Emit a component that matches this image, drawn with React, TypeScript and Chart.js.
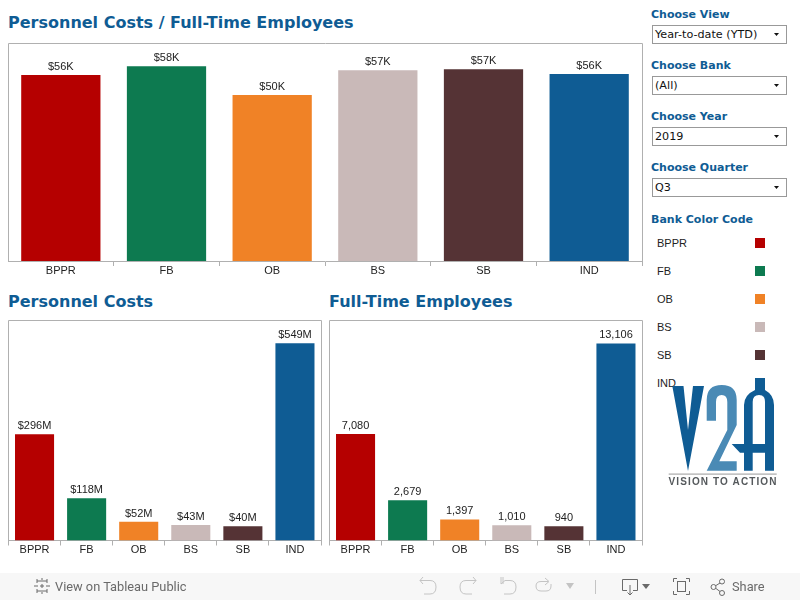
import React, { useEffect, useRef } from "react";
import { Chart, registerables } from "chart.js";

Chart.register(...registerables);

const banks = ["BPPR", "FB", "OB", "BS", "SB", "IND"];
const bankColors = ["#b50000", "#0d7a50", "#f08226", "#c9b9b8", "#553335", "#0f5c94"];
const costPerEmployee = [55.7, 58.3, 49.7, 57.1, 57.4, 56.0];
const costPerEmployeeLabels = ["$56K", "$58K", "$50K", "$57K", "$57K", "$56K"];
const personnelCosts = [296, 118, 52, 43, 40, 549];
const personnelCostLabels = ["$296M", "$118M", "$52M", "$43M", "$40M", "$549M"];
const employees = [7080, 2679, 1397, 1010, 940, 13106];
const employeeLabels = ["7,080", "2,679", "1,397", "1,010", "940", "13,106"];
const filters = [
  ["Choose View", "Year-to-date (YTD)"],
  ["Choose Bank", "(All)"],
  ["Choose Year", "2019"],
  ["Choose Quarter", "Q3"],
];

const BLUE = "#0f5c94";
const FRAME = "#b0b0b0";

function BarPanel(props: {
  values: number[];
  labels: string[];
  max: number;
  left: number;
  top: number;
  width: number;
  height: number;
  axisHeight: number;
  padLeft: number;
}) {
  const ref = useRef<HTMLCanvasElement | null>(null);
  const { values, labels, max, left, top, width, height, axisHeight, padLeft } = props;
  useEffect(() => {
    const chart = new Chart(ref.current as HTMLCanvasElement, {
      type: "bar",
      data: {
        labels: banks,
        datasets: [
          {
            data: values,
            backgroundColor: bankColors,
            categoryPercentage: 1,
            barPercentage: 0.75,
          },
        ],
      },
      options: {
        animation: false,
        responsive: false,
        events: [],
        layout: { padding: { left: padLeft, right: 1, top: 0.5, bottom: 0 } },
        plugins: { legend: { display: false }, tooltip: { enabled: false } },
        scales: {
          y: { display: false, min: 0, max },
          x: {
            afterFit: (s: any) => {
              s.height = axisHeight;
            },
            border: { color: FRAME },
            grid: { drawOnChartArea: false, tickLength: 5, color: FRAME },
            ticks: {
              color: "#222",
              padding: -2,
              maxRotation: 0,
              font: { family: "'Liberation Sans', Arial", size: 11 },
            },
          },
        },
      },
      plugins: [
        {
          id: "frameAndLabels",
          afterDatasetsDraw(c: any) {
            const { ctx, chartArea: a } = c;
            const l = Math.floor(a.left) + 0.5;
            const r = Math.floor(a.right) + 0.5;
            ctx.save();
            ctx.strokeStyle = FRAME;
            ctx.lineWidth = 1;
            ctx.beginPath();
            ctx.moveTo(l, a.bottom);
            ctx.lineTo(l, a.top);
            ctx.lineTo(r, a.top);
            ctx.lineTo(r, a.bottom);
            ctx.stroke();
            ctx.fillStyle = "#222";
            ctx.font = "11px 'Liberation Sans', Arial";
            ctx.textAlign = "center";
            ctx.textBaseline = "alphabetic";
            c.getDatasetMeta(0).data.forEach((el: any, i: number) => {
              ctx.fillText(labels[i], el.x, el.y - 5);
            });
            ctx.restore();
          },
        },
      ],
    } as any);
    return () => chart.destroy();
  }, []);
  return (
    <canvas
      ref={ref}
      width={width}
      height={height}
      style={{ position: "absolute", left, top, width, height }}
    />
  );
}

const Title = (p: { x: number; y: number; text: string }) => (
  <div
    style={{
      position: "absolute",
      left: p.x,
      top: p.y,
      font: "bold 16px 'DejaVu Sans'",
      lineHeight: "20px",
      color: BLUE,
      whiteSpace: "nowrap",
    }}
  >
    {p.text}
  </div>
);

function Logo() {
  const dark = BLUE;
  return (
    <svg
      width={800}
      height={600}
      style={{ position: "absolute", left: 0, top: 0, pointerEvents: "none" }}
    >
      <polygon
        fill={dark}
        points="672.3,386 683.5,386 688,430 693,386 704,386 688,471"
      />
      <path
        fill="#4a8ab5"
        d="M706.7 420.7 V400 Q706.7 385 721.7 385 Q736.7 385 736.7 400 V425 L719.3 461.3 H736.7 V470.7 H706.7 L727.3 430 V402 Q727.3 395 721.7 395 Q716 395 716 402 V420.7 Z"
      />
      <path
        fill={dark}
        fillRule="evenodd"
        d="M755 378 H765 V390 Q774 395 774 405 V470.7 H765 V452.7 H752.7 V470.7 H744 V452.7 H740 L731.7 444 H744 V405 Q744 395 755 390 Z M752.7 444 H765 V402 Q765 395 759 395 Q752.7 395 752.7 402 Z"
      />
      <rect x={668.7} y={473.5} width={108} height={1.2} fill="#aaa" />
      <text
        x={668.5}
        y={484.5}
        textLength={108}
        lengthAdjust="spacing"
        fontFamily="'Liberation Sans', Arial"
        fontWeight="bold"
        fontSize={10}
        fill="#55595c"
      >
        VISION TO ACTION
      </text>
    </svg>
  );
}

function Toolbar() {
  const light = "#c4c4c4";
  const dark = "#6a6a6a";
  const s = { fill: "none", strokeWidth: 1 };
  return (
    <>
      <div
        style={{
          position: "absolute",
          left: 0,
          top: 573,
          width: 800,
          height: 27,
          background: "#f7f7f7",
        }}
      />
      <svg
        width={800}
        height={27}
        style={{ position: "absolute", left: 0, top: 573 }}
      >
        <g stroke={dark} {...s}>
          <path d="M42 5 V9 M42 17 V21 M34 13 H38 M46 13 H50 M37 8 H41 M43 8 H47 M37 18 H41 M43 18 H47 M37 6 V10 M47 6 V10 M37 16 V20 M47 16 V20 M40 13 H44 M42 11 V15" />
        </g>
        <g stroke={light} {...s}>
          <path d="M420 7.5 H430 Q436 7.5 436 14 Q436 21 430 21 H424 M423 4 L420 7.5 L423 11" />
          <path d="M476 7.5 H466 Q460 7.5 460 14 Q460 21 466 21 H472 M473 4 L476 7.5 L473 11" />
          <path d="M505 7.5 H510 Q516 7.5 516 14 Q516 21 510 21 H504 M503 4 V11 M501 4 V11 L505 7.5" />
          <path d="M548 8.5 H541 Q536 8.5 536 13 Q536 18 541 18 H546 Q551 18 551 13 V11 M545 5 L549 8.5 L545 12" />
        </g>
        <polygon points="566,10 574,10 570,16" fill={light} />
        <rect x={595} y={7} width={1} height={14} fill={light} />
        <g stroke={dark} {...s}>
          <path d="M627 17.5 H622.5 V6.5 H637.5 V17.5 H633 M630 12 V22 M627.5 19.5 L630 22 L632.5 19.5" />
          <path d="M673.5 9 V5.5 H677 M686 5.5 H689.5 V9 M689.5 18 V21.5 H686 M677 21.5 H673.5 V18" />
          <rect x={677.5} y={8.5} width={8} height={10} />
          <circle cx={713.5} cy={14} r={2.5} />
          <circle cx={722} cy={8.5} r={2.5} />
          <circle cx={722} cy={20} r={2.5} />
          <path d="M716 12.5 L720 10 M716 15.5 L720 18.5" />
        </g>
        <polygon points="642,11 650,11 646,16" fill={dark} />
      </svg>
      <div
        style={{
          position: "absolute",
          left: 55,
          top: 579,
          font: "12.8px Roboto",
          lineHeight: "15px",
          color: dark,
          whiteSpace: "nowrap",
        }}
      >
        View on Tableau Public
      </div>
      <div
        style={{
          position: "absolute",
          left: 732,
          top: 579,
          font: "12.8px Roboto",
          lineHeight: "15px",
          color: dark,
          whiteSpace: "nowrap",
        }}
      >
        Share
      </div>
    </>
  );
}

export default function App() {
  return (
    <div
      style={{
        position: "fixed",
        left: 0,
        top: 0,
        width: 800,
        height: 600,
        background: "#fff",
        overflow: "hidden",
      }}
    >
      <Title x={8} y={13} text="Personnel Costs / Full-Time Employees" />
      <Title x={8} y={292} text="Personnel Costs" />
      <Title x={329} y={292} text="Full-Time Employees" />

      <BarPanel
        values={costPerEmployee}
        labels={costPerEmployeeLabels}
        max={65.1}
        left={8}
        top={43}
        width={635}
        height={239}
        axisHeight={21}
        padLeft={0}
      />
      <BarPanel
        values={personnelCosts}
        labels={personnelCostLabels}
        max={612.7}
        left={8}
        top={320}
        width={314}
        height={241}
        axisHeight={20.5}
        padLeft={0.5}
      />
      <BarPanel
        values={employees}
        labels={employeeLabels}
        max={14630}
        left={329}
        top={320}
        width={314}
        height={241}
        axisHeight={20.5}
        padLeft={0.5}
      />

      {filters.map(([label, value], i) => (
        <React.Fragment key={label}>
          <div
            style={{
              position: "absolute",
              left: 651,
              top: 8 + i * 51,
              font: "bold 11px 'DejaVu Sans'",
              lineHeight: "14px",
              color: BLUE,
              whiteSpace: "nowrap",
            }}
          >
            {label}
          </div>
          <div
            style={{
              position: "absolute",
              left: 652,
              top: 25 + i * 51,
              width: 133,
              height: 17,
              border: "1px solid #999",
              background: "#fff",
              boxSizing: "content-box",
            }}
          >
            <span
              style={{
                position: "absolute",
                left: 2,
                top: 2,
                font: "11.2px 'DejaVu Sans'",
                lineHeight: "14px",
                color: "#111",
                whiteSpace: "nowrap",
              }}
            >
              {value}
            </span>
            <svg
              width={8}
              height={5}
              style={{ position: "absolute", left: 121, top: 7 }}
            >
              <polygon points="0,0 5,0 2.5,3" fill="#111" />
            </svg>
          </div>
        </React.Fragment>
      ))}

      <div
        style={{
          position: "absolute",
          left: 651,
          top: 213,
          font: "bold 11px 'DejaVu Sans'",
          lineHeight: "14px",
          color: BLUE,
          whiteSpace: "nowrap",
        }}
      >
        Bank Color Code
      </div>
      {banks.map((b, i) => (
        <React.Fragment key={b}>
          <div
            style={{
              position: "absolute",
              left: 657,
              top: 236 + i * 28,
              font: "11px 'Liberation Sans'",
              lineHeight: "14px",
              color: "#222",
            }}
          >
            {b}
          </div>
          {i < 5 && (
            <div
              style={{
                position: "absolute",
                left: 755,
                top: 238 + i * 28,
                width: 10,
                height: 10,
                background: bankColors[i],
              }}
            />
          )}
        </React.Fragment>
      ))}

      <Logo />
      <Toolbar />
    </div>
  );
}
